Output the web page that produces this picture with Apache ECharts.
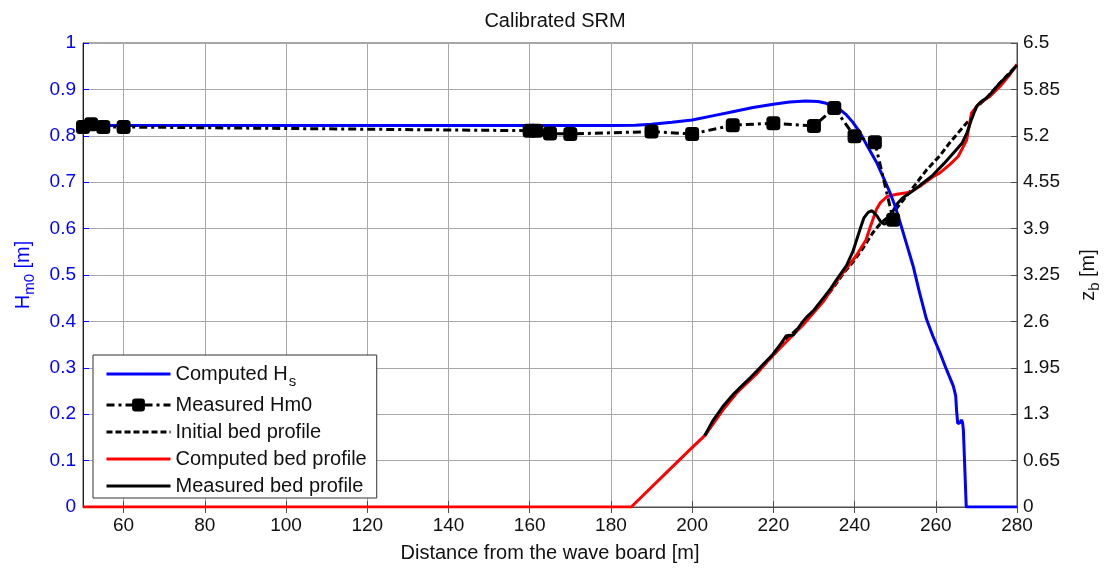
<!DOCTYPE html>
<html>
<head>
<meta charset="utf-8">
<script src="https://cdn.jsdelivr.net/npm/echarts@6/dist/echarts.min.js"></script>
<style>
  html, body { margin: 0; padding: 0; background: #fff; }
  #chart { width: 1110px; height: 568px; }
</style>
</head>
<body>
<div id="chart"></div>
<script>
// Tick positions
const xTicks = [60, 80, 100, 120, 140, 160, 180, 200, 220, 240, 260, 280];

// Computed significant wave height Hs [m]
const hsX = [50, 180, 186, 190, 195, 200, 205, 210, 215, 220, 224, 228, 231, 233, 235, 236.5, 238, 239.5, 241.3, 243, 245.4, 247, 248.7, 250, 251.2, 252.8, 254.4, 256, 257.7, 259.3, 261, 262.6, 264.3, 264.9, 265.1, 265.4, 266.0, 266.3, 266.6, 266.8, 267.5, 280];
const hsY = [0.822, 0.822, 0.823, 0.825, 0.829, 0.834, 0.843, 0.852, 0.861, 0.868, 0.873, 0.875, 0.874, 0.870, 0.863, 0.856, 0.845, 0.830, 0.808, 0.780, 0.743, 0.712, 0.678, 0.648, 0.614, 0.567, 0.520, 0.462, 0.405, 0.368, 0.333, 0.297, 0.261, 0.240, 0.210, 0.180, 0.182, 0.188, 0.182, 0.165, 0, 0];

// Measured Hm0 [m]
const hm0X = [50, 52, 55, 60, 160, 161.6, 165, 170, 190, 200, 210, 220, 230, 235, 240, 245, 249.5];
const hm0Y = [0.819, 0.825, 0.819, 0.819, 0.811, 0.811, 0.805, 0.804, 0.809, 0.804, 0.823, 0.827, 0.821, 0.860, 0.799, 0.786, 0.619];

// Initial bed profile zb [m]
const initX = [203.1, 207.6, 212.5, 216.7, 219.9, 223.2, 227.3, 232.2, 235.5, 237.2, 239.6, 242, 244.6, 246.5, 249.5, 252, 255, 257.7, 261, 263.4, 265.5, 267.6, 268.8, 270, 272.5, 275.8, 280];
const initY = [1.0, 1.38, 1.70, 1.93, 2.12, 2.35, 2.57, 2.88, 3.13, 3.27, 3.43, 3.62, 3.85, 3.98, 4.12, 4.30, 4.52, 4.72, 4.92, 5.10, 5.24, 5.38, 5.45, 5.60, 5.73, 5.94, 6.19];

// Computed bed profile zb [m]
const compX = [50, 185, 199.4, 203.1, 207.6, 211, 215.8, 219, 222.4, 227.3, 232.2, 236.3, 238.5, 240.4, 242.8, 243.9, 245.4, 246.3, 248, 250.4, 253.7, 256, 259.4, 261, 263.5, 265.5, 267.6, 268.8, 270.8, 273.3, 275.8, 278, 280];
const compY = [0, 0, 0.80, 1.0, 1.36, 1.60, 1.86, 2.07, 2.27, 2.55, 2.87, 3.22, 3.38, 3.52, 3.74, 3.93, 4.17, 4.26, 4.35, 4.38, 4.41, 4.49, 4.63, 4.68, 4.80, 4.91, 5.14, 5.52, 5.66, 5.75, 5.89, 6.04, 6.20];

// Measured bed profile zb [m]
const measX = [203.1, 205, 207.6, 210, 212.5, 214.5, 216.7, 219.9, 222, 223.2, 224.9, 226, 227.3, 228.2, 230, 232.2, 234, 235.5, 238, 239.6, 240.5, 241.4, 242.3, 243.4, 244.3, 245.5, 246.5, 247.4, 248.3, 249.2, 250.4, 251.8, 253.4, 256, 259.3, 262, 265, 266.5, 267.6, 268.8, 270, 271.2, 272.5, 274, 275.8, 278, 280];
const measY = [1.0, 1.20, 1.41, 1.57, 1.71, 1.82, 1.95, 2.14, 2.30, 2.40, 2.41, 2.50, 2.60, 2.66, 2.76, 2.92, 3.05, 3.18, 3.38, 3.58, 3.74, 3.90, 4.05, 4.13, 4.15, 4.08, 3.99, 3.96, 4.02, 4.12, 4.24, 4.33, 4.39, 4.50, 4.65, 4.81, 5.00, 5.10, 5.23, 5.43, 5.61, 5.68, 5.73, 5.82, 5.94, 6.06, 6.19];

const pairs = (xs, ys) => xs.map((x, i) => [x, ys[i]]);

const FONT = 'Liberation Sans, Arial, Helvetica, sans-serif';
const BLUE = '#0000ff';
const GRID = '#a8a8a8';
const FRAME = '#4d4d4d';
const fmt = v => String(+(+v).toFixed(2));
// legend entries drawn as plain line samples (no marker)
const lineOnly = name => ({ name: name, itemStyle: { opacity: 0 } });

const chart = echarts.init(document.getElementById('chart'), null, { renderer: 'canvas' });

chart.setOption({
  animation: false,
  backgroundColor: '#ffffff',
  textStyle: { fontFamily: FONT },
  title: {
    text: 'Calibrated SRM',
    left: 'center',
    top: 6,
    textStyle: { fontFamily: FONT, fontSize: 20, fontWeight: 'normal', color: '#111' }
  },
  grid: {
    left: 83, right: 93, top: 43, bottom: 61,
    show: true, borderColor: FRAME, borderWidth: 1,
    outerBoundsMode: 'none'
  },
  legend: {
    left: 93, top: 355,
    orient: 'vertical',
    padding: [8, 10, 1, 12],
    itemGap: 5,
    itemWidth: 64, itemHeight: 16,
    backgroundColor: '#ffffff',
    borderColor: '#333',
    borderWidth: 1,
    borderRadius: 0,
    lineStyle: { width: 3 },
    data: [
      lineOnly('Computed Hs'),
      { name: 'Measured Hm0' },
      lineOnly('Initial bed profile'),
      lineOnly('Computed bed profile'),
      lineOnly('Measured bed profile')
    ],
    formatter: name => name === 'Computed Hs' ? 'Computed H{sub|s}' : name,
    textStyle: {
      fontFamily: FONT, fontSize: 20, color: '#111', lineHeight: 22,
      rich: { sub: { fontFamily: FONT, fontSize: 15, color: '#111', padding: [15, 0, 0, 1] } }
    }
  },
  xAxis: [{
    type: 'value', min: 50, max: 280,
    name: 'Distance from the wave board [m]',
    nameLocation: 'middle', nameGap: 36,
    nameTextStyle: { fontFamily: FONT, fontSize: 20, color: '#111' },
    axisLine: { show: true, onZero: false, lineStyle: { color: FRAME, width: 1 } },
    axisTick: { show: true, inside: true, length: 6, customValues: xTicks, lineStyle: { color: FRAME } },
    axisLabel: { customValues: xTicks, fontFamily: FONT, fontSize: 19, color: '#111', margin: 9 },
    splitLine: { show: true, lineStyle: { color: GRID, width: 1 } }
  }, {
    type: 'value', min: 50, max: 280, position: 'top',
    axisLine: { show: false },
    axisTick: { show: true, inside: true, length: 6, customValues: xTicks, lineStyle: { color: FRAME } },
    axisLabel: { show: false },
    splitLine: { show: false }
  }],
  yAxis: [{
    type: 'value', min: 0, max: 1, interval: 0.1, position: 'left',
    name: 'H{sub|m0} [m]',
    nameLocation: 'middle', nameGap: 46,
    nameTextStyle: {
      fontFamily: FONT, fontSize: 20, color: BLUE,
      rich: { sub: { fontFamily: FONT, fontSize: 15, color: BLUE, padding: [12, 0, 0, 0] } }
    },
    axisLine: { show: true, onZero: false, lineStyle: { color: BLUE, width: 1 } },
    axisTick: { show: true, inside: true, length: 6, lineStyle: { color: BLUE } },
    axisLabel: { fontFamily: FONT, fontSize: 19, color: BLUE, margin: 7, formatter: fmt },
    splitLine: { show: true, lineStyle: { color: GRID, width: 1 } }
  }, {
    type: 'value', min: 0, max: 6.5, interval: 0.65, position: 'right',
    name: 'z{sub|b} [m]',
    nameLocation: 'middle', nameGap: 58,
    nameTextStyle: {
      fontFamily: FONT, fontSize: 20, color: '#111',
      rich: { sub: { fontFamily: FONT, fontSize: 15, color: '#111', padding: [12, 0, 0, 0] } }
    },
    axisLine: { show: true, onZero: false, lineStyle: { color: FRAME, width: 1 } },
    axisTick: { show: true, inside: true, length: 6, lineStyle: { color: FRAME } },
    axisLabel: { fontFamily: FONT, fontSize: 19, color: '#111', margin: 6, formatter: fmt },
    splitLine: { show: false }
  }],
  series: [{
    name: 'Computed Hs', type: 'line', xAxisIndex: 0, yAxisIndex: 0,
    data: pairs(hsX, hsY),
    showSymbol: false, symbol: 'none', z: 4,
    lineStyle: { color: BLUE, width: 3 },
    itemStyle: { color: BLUE }
  }, {
    name: 'Measured Hm0', type: 'line', xAxisIndex: 0, yAxisIndex: 0,
    data: pairs(hm0X, hm0Y),
    symbol: 'roundRect', symbolSize: 14, showSymbol: true, z: 6,
    lineStyle: { color: '#000', width: 3, type: [8, 4, 3, 4] },
    itemStyle: { color: '#000', borderWidth: 0 }
  }, {
    name: 'Initial bed profile', type: 'line', xAxisIndex: 0, yAxisIndex: 1,
    data: pairs(initX, initY),
    showSymbol: false, symbol: 'none', z: 2,
    lineStyle: { color: '#000', width: 3, type: [6, 3] },
    itemStyle: { color: '#000' }
  }, {
    name: 'Computed bed profile', type: 'line', xAxisIndex: 0, yAxisIndex: 1,
    data: pairs(compX, compY),
    showSymbol: false, symbol: 'none', z: 3,
    lineStyle: { color: '#ff0000', width: 3 },
    itemStyle: { color: '#ff0000' }
  }, {
    name: 'Measured bed profile', type: 'line', xAxisIndex: 0, yAxisIndex: 1,
    data: pairs(measX, measY),
    showSymbol: false, symbol: 'none', z: 3,
    lineStyle: { color: '#000', width: 3 },
    itemStyle: { color: '#000' }
  }]
});
</script>
</body>
</html>
